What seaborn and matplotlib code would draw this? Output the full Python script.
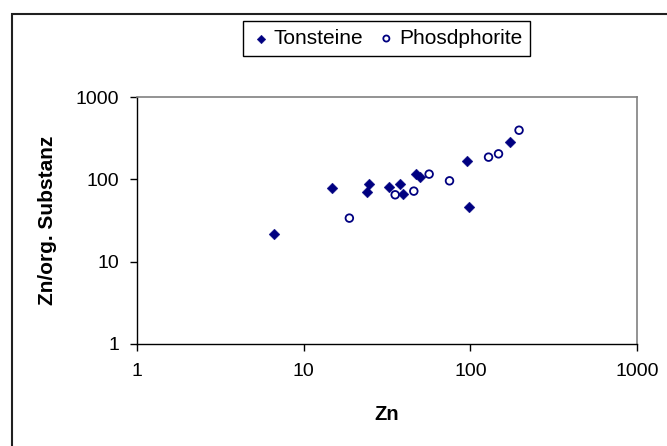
import numpy as np
import pandas as pd
import matplotlib
matplotlib.use("Agg")
import matplotlib.pyplot as plt
from matplotlib.patches import Rectangle
from matplotlib.ticker import NullLocator
import seaborn as sns

# Werte (log-log)
ton_zn = [6.6, 14.7, 24.6, 24.0, 32.6, 37.7, 39.5, 47.5, 49.8, 95.7, 98.0, 173.0]
ton_ratio = [21.4, 77.6, 86.7, 69.9, 81.1, 87.5, 65.6, 114.6, 107.2, 165.0, 46.0, 288.0]
pho_zn = [18.8, 35.4, 45.8, 56.6, 75.0, 128.6, 147.6, 196.0]
pho_ratio = [33.8, 64.9, 71.9, 115.7, 95.9, 186.0, 204.0, 395.0]
ticks = [1, 10, 100, 1000]
tick_labels = ["1", "10", "100", "1000"]

ton = pd.DataFrame({"Zn": ton_zn, "ratio": ton_ratio})
pho = pd.DataFrame({"Zn": pho_zn, "ratio": pho_ratio})

sns.set_style("ticks")
plt.rcParams["font.family"] = ["Liberation Sans", "DejaVu Sans"]
plt.rcParams["text.color"] = "black"
plt.rcParams["axes.labelcolor"] = "black"
plt.rcParams["xtick.color"] = "black"
plt.rcParams["ytick.color"] = "black"

navy = "#000080"
fig = plt.figure(figsize=(6.67, 4.46), dpi=100)
ax = fig.add_axes([137/667, 1-344/446, 500/667, 247/446])

sns.scatterplot(data=ton, x="Zn", y="ratio", marker="D", s=30, color=navy,
                edgecolor=navy, linewidth=0.3, label="Tonsteine", ax=ax)
sns.scatterplot(data=pho, x="Zn", y="ratio", marker="o", s=30, facecolors="none",
                edgecolor=navy, linewidth=1.3, label="Phosdphorite", ax=ax)

ax.set_xscale("log")
ax.set_yscale("log")
ax.set_xlim(1, 1000)
ax.set_ylim(1, 1000)
ax.set_xticks(ticks, labels=tick_labels)
ax.set_yticks(ticks, labels=tick_labels)
ax.xaxis.set_minor_locator(NullLocator())
ax.yaxis.set_minor_locator(NullLocator())
ax.tick_params(axis="both", length=5, width=1, color="black", labelcolor="black", labelsize=14)
ax.tick_params(axis="x", pad=9)
ax.tick_params(axis="y", pad=8)

for side in ["left", "bottom"]:
    ax.spines[side].set_color("black")
    ax.spines[side].set_linewidth(1.0)
for side in ["top", "right"]:
    ax.spines[side].set_visible(True)
    ax.spines[side].set_color("#808080")
    ax.spines[side].set_linewidth(1.2)

ax.set_xlabel("Zn", fontsize=14.5, fontweight="bold", color="black")
ax.set_ylabel("Zn/org. Substanz", fontsize=15, fontweight="bold", color="black")
ax.xaxis.label.set_va("center")
ax.xaxis.set_label_coords(0.5, -0.287)
ax.yaxis.label.set_va("center")
ax.yaxis.set_label_coords(-0.178, 0.5)

leg = ax.legend(loc="center", bbox_to_anchor=(386.5/667, 1-38.5/446),
                bbox_transform=fig.transFigure, ncol=2, fontsize=15,
                frameon=True, fancybox=False, framealpha=1, edgecolor="black",
                markerscale=0.8, handletextpad=0.1, columnspacing=0.6,
                borderpad=0.4, handlelength=1.0)
leg.get_frame().set_linewidth(1.0)
for t in leg.get_texts():
    t.set_color("black")

# Rahmen des Diagrammbereichs (rechts/unten ausserhalb des Bildes)
fig.add_artist(Rectangle((12/667, -0.5), 2, 0.5 + 1 - 14/446, transform=fig.transFigure,
                         fill=False, edgecolor="#202020", linewidth=1.5, clip_on=False))

fig.savefig("out.png", dpi=100)
